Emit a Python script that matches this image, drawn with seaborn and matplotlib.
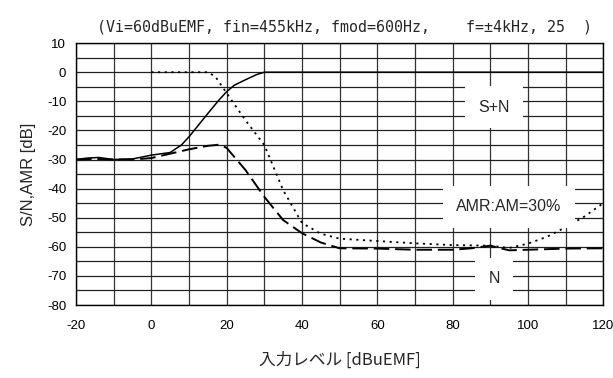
import matplotlib
matplotlib.use("Agg")
import matplotlib.pyplot as plt
import seaborn as sns
import pandas as pd

# Data
sn_x = [-20, -17, -14, -10, -5, 0, 5, 8, 10, 12, 15, 18, 20, 22, 25, 28, 30, 40, 60, 80, 100, 120]
sn_y = [-30, -29.5, -29.3, -30, -29.8, -28.5, -27.6, -25, -22.2, -19, -14.2, -9.5, -6.7, -4.5, -2.6, -0.8, 0, 0, 0, 0, 0, 0]

n_x = [-20, -15, -10, -5, 0, 5, 10, 15, 18, 20, 25, 30, 35, 40, 45, 50, 60, 70, 80, 85, 90, 95, 100, 110, 120]
n_y = [-30, -29.8, -30, -30, -29.5, -28, -26.5, -25.3, -24.9, -26, -33.6, -42.8, -50.8, -55.3, -58.5, -60.5, -60.6, -61, -61, -60.5, -59.6, -61.2, -61, -60.6, -60.5]

amr_x = [0, 5, 10, 15, 17, 20, 25, 30, 35, 40, 45, 50, 60, 70, 80, 90, 95, 100, 105, 110, 115, 120]
amr_y = [0, 0, 0, 0, -1.5, -7.2, -16.5, -25, -40.5, -51.8, -55.5, -57.2, -58, -58.8, -59.4, -59.6, -60.4, -58.9, -56.6, -53.3, -49.6, -45]

x_ticks = [-20, 0, 20, 40, 60, 80, 100, 120]
y_ticks = [10, 0, -10, -20, -30, -40, -50, -60, -70, -80]

title_text = "(Vi=60dBuEMF, fin=455kHz, fmod=600Hz,    f=±4kHz, 25  )"
xlabel_text = "入力レベル [dBuEMF]"
ylabel_text = "S/N,AMR [dB]"
labels = [("S+N", 91, -12), ("AMR:AM=30%", 95, -46.3), ("N", 91, -71)]

df = pd.concat([
    pd.DataFrame({"x": sn_x, "y": sn_y, "series": "S+N"}),
    pd.DataFrame({"x": n_x, "y": n_y, "series": "N"}),
    pd.DataFrame({"x": amr_x, "y": amr_y, "series": "AMR"}),
])

sns.set_theme(style="white")
plt.rcParams['font.family'] = ['Liberation Sans', 'Noto Sans CJK JP', 'DejaVu Sans']
plt.rcParams['axes.unicode_minus'] = False

fig = plt.figure(figsize=(6.13, 3.78), dpi=100)
ax = fig.add_axes([0.124, 0.193, 0.86, 0.693])

# grid
for gx in range(-20, 121, 10):
    ax.axvline(gx, color="#333333", lw=0.9, zorder=1)
for gy in range(-80, 11, 5):
    ax.axhline(gy, color="#222222", lw=0.9, zorder=1)

styles = {"S+N": (None, 1.1), "N": ((8, 3), 1.4), "AMR": ((1.2, 2.5), 1.3)}
for name, (dash, lw) in styles.items():
    sub = df[df.series == name]
    sns.lineplot(data=sub, x="x", y="y", ax=ax, color="black", lw=lw,
                 estimator=None, sort=False, zorder=3)
    if dash is not None:
        ax.lines[-1].set_dashes(dash)

for txt, lx, ly in labels:
    ax.text(lx, ly, txt, ha="center", va="center", fontsize=11.5, zorder=5,
            bbox=dict(facecolor="white", edgecolor="none", pad=9.5))

ax.set_xlim(-20, 120)
ax.set_ylim(-80, 10)
ax.set_xticks(x_ticks)
ax.set_yticks(y_ticks)
ax.tick_params(axis="both", length=0, labelsize=9.5, colors="black")
ax.tick_params(axis="x", pad=11)
ax.tick_params(axis="y", pad=7)
for s in ax.spines.values():
    s.set_color("black")
    s.set_linewidth(1.0)
ax.set_xlabel(xlabel_text, fontsize=12, labelpad=14, family=['Noto Sans CJK JP', 'DejaVu Sans'])
ax.set_ylabel(ylabel_text, fontsize=12, labelpad=8)
ax.set_title(title_text, fontsize=10.8, pad=8, x=0.51,
             family=['DejaVu Sans Mono', 'DejaVu Sans'])

fig.savefig("out.png", dpi=100, facecolor="white")
